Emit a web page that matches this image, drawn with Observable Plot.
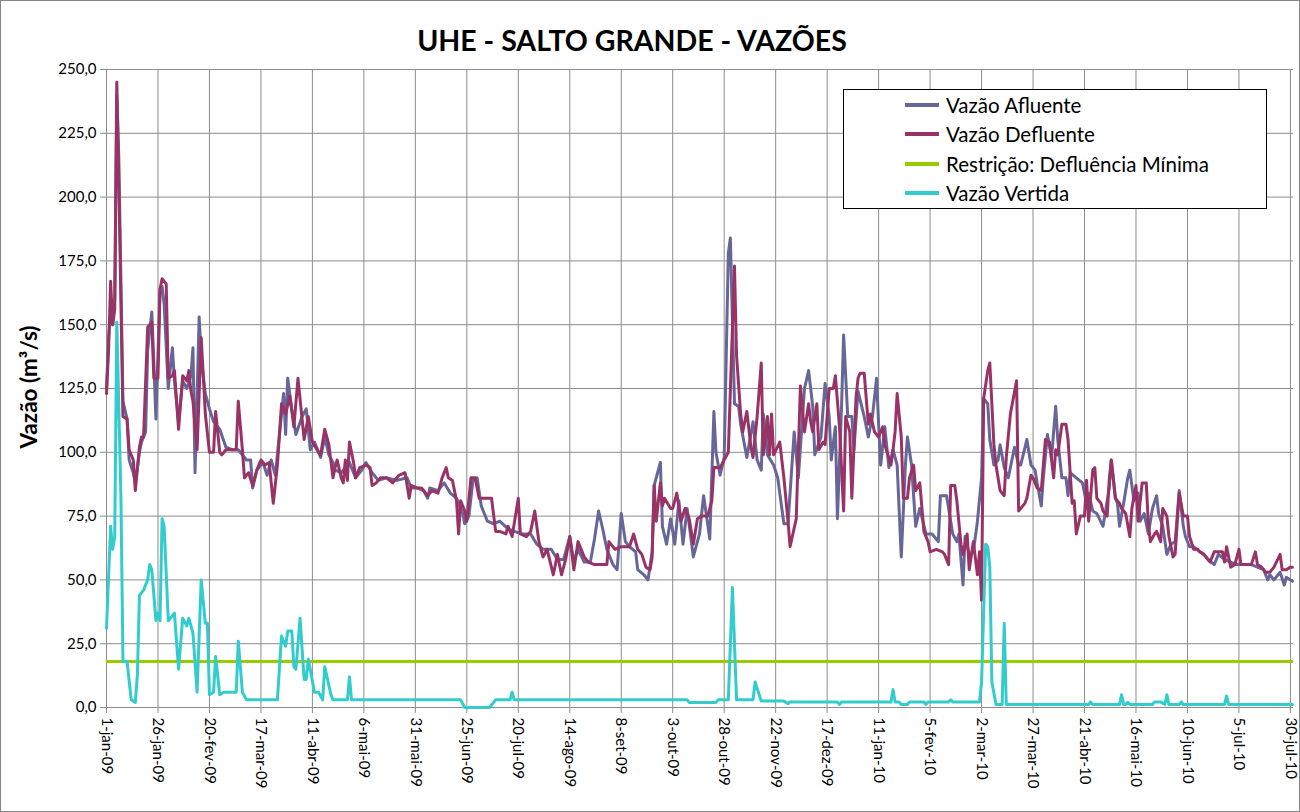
<!DOCTYPE html>
<html><head><meta charset="utf-8">
<script src="https://cdn.jsdelivr.net/npm/d3@7"></script>
<script src="https://cdn.jsdelivr.net/npm/@observablehq/plot@0.6"></script>
<style>
body{margin:0;background:#fff;font-family:Lato,"Open Sans",sans-serif;}
#chart{position:relative;width:1300px;height:812px;overflow:hidden;background:#fff;}
#chart svg{position:absolute;left:0;top:0;}
#frame{position:absolute;left:0;top:0;width:1300px;height:812px;box-sizing:border-box;border:1px solid #868686;pointer-events:none;}
#title{position:absolute;left:632px;top:24px;line-height:32px;transform:translateX(-50%);font-weight:bold;font-size:28.5px;white-space:nowrap;color:#000;}
#ylabel{position:absolute;left:28px;top:387px;transform:translate(-50%,-50%) rotate(-90deg);font-weight:bold;font-size:22.5px;white-space:nowrap;color:#000;}
#legend{position:absolute;left:843px;top:89px;width:424px;height:120px;box-sizing:border-box;border:1.5px solid #000;background:#fff;}
.item{display:flex;align-items:center;height:29.5px;padding-left:61px;font-size:20.5px;color:#000;}
.swatch{width:34px;height:4px;margin-right:7px;}
</style></head>
<body>
<div id="chart">
  <div id="title">UHE - SALTO GRANDE - VAZÕES</div>
  <div id="ylabel">Vazão (m³/s)</div>
  <div id="legend"></div>
  <div id="frame"></div>
</div>
<script>
// x tick positions (days since 1-jan-09) and their labels
const tickDays = [0,25,50,75,100,125,150,175,200,225,250,275,300,325,350,375,400,425,450,475,500,525,550,575];
const tickLabels = ["1-jan-09","26-jan-09","20-fev-09","17-mar-09","11-abr-09","6-mai-09","31-mai-09","25-jun-09","20-jul-09","14-ago-09","8-set-09","3-out-09","28-out-09","22-nov-09","17-dez-09","11-jan-10","5-fev-10","2-mar-10","27-mar-10","21-abr-10","16-mai-10","10-jun-10","5-jul-10","30-jul-10"];
const yTicks = [0,25,50,75,100,125,150,175,200,225,250];

const seriesNames = ["Vazão Afluente","Vazão Defluente","Restrição: Defluência Mínima","Vazão Vertida"];
const seriesColors = ["#666699","#993366","#99CC00","#33CCCC"];

// [day since 1-jan-09, m3/s]
const afluente = [[0,125],[1,145],[2,155],[3,150],[4,160],[5,240],[6,215],[8,120],[10,113],[11,97],[13,92],[14,88],[16,100],[17,104],[19,108],[20,140],[22,155],[23,135],[24,113],[26,164],[27,165],[28,158],[30,125],[32,141],[33,128],[35,112],[37,128],[39,125],[41,130],[42,141],[43,92],[45,153],[46,137],[48,123],[50,117],[52,112],[55,109],[58,102],[61,101],[64,101],[68,97],[70,97],[71,86],[73,93],[76,96],[78,91],[80,97],[82,91],[84,107],[86,123],[87,107],[88,129],[90,117],[92,107],[95,114],[97,117],[99,101],[101,104],[104,98],[106,106],[108,99],[110,96],[111,93],[114,92],[118,96],[121,90],[124,93],[126,96],[129,92],[132,89],[136,90],[141,89],[146,90],[148,86],[151,86],[154,85],[156,82],[157,86],[161,85],[164,88],[167,84],[170,82],[173,76],[174,72],[176,75],[178,89],[180,90],[182,79],[185,73],[188,72],[191,73],[195,70],[198,69],[202,68],[206,68],[209,64],[212,62],[216,62],[219,58],[222,58],[225,67],[227,57],[229,62],[232,57],[235,57],[237,66],[239,77],[241,70],[243,62],[246,56],[248,54],[250,76],[252,65],[254,63],[257,61],[258,54],[261,52],[263,50],[265,61],[266,87],[269,96],[270,71],[272,64],[274,74],[276,64],[278,81],[280,64],[282,78],[285,59],[288,68],[290,83],[293,66],[295,116],[296,100],[298,91],[300,98],[302,178],[303,184],[305,119],[307,118],[308,111],[311,98],[314,112],[316,97],[318,93],[319,115],[321,99],[324,95],[326,90],[329,72],[331,72],[334,108],[336,90],[339,125],[341,132],[343,118],[344,99],[347,106],[349,127],[351,114],[352,97],[354,110],[355,74],[357,118],[358,146],[360,114],[362,114],[363,101],[365,124],[368,114],[370,106],[372,114],[374,129],[375,111],[376,95],[378,110],[380,94],[382,101],[384,95],[386,59],[388,95],[389,106],[391,95],[393,71],[395,78],[398,68],[401,68],[404,65],[405,83],[408,83],[411,68],[413,65],[414,68],[416,48],[417,67],[419,60],[421,61],[423,73],[425,90],[426,121],[428,119],[429,105],[431,95],[433,97],[434,103],[436,94],[438,90],[441,102],[443,95],[444,95],[447,105],[449,95],[451,93],[452,88],[454,79],[455,90],[457,107],[459,98],[461,118],[462,105],[464,90],[466,90],[467,83],[468,92],[471,90],[474,88],[476,80],[477,84],[479,77],[481,76],[484,71],[485,76],[487,86],[488,97],[490,82],[491,80],[492,71],[494,80],[496,90],[497,93],[499,81],[501,84],[502,73],[504,76],[506,68],[508,78],[510,83],[511,76],[513,71],[515,60],[517,64],[519,65],[521,85],[523,71],[524,67],[526,63],[528,63],[531,61],[533,60],[535,58],[538,56],[540,60],[543,58],[546,57],[549,56],[552,56],[556,56],[559,55],[562,54],[564,50],[565,52],[567,50],[570,53],[572,48],[573,51],[575,50],[576,49.5]];

const defluente = [[0,123],[1,140],[2,167],[3,150],[4,156],[5,245],[6,205],[8,114],[10,113],[11,101],[13,97],[14,85],[16,102],[17,106],[18,106],[20,149],[22,151],[23,129],[25,129],[26,164],[27,168],[29,166],[30,129],[32,130],[33,132],[35,109],[37,130],[39,128],[40,132],[41,124],[42,120],[44,101],[46,145],[48,115],[50,100],[52,100],[53,116],[55,100],[56,99],[58,101],[63,101],[64,120],[66,101],[67,90],[69,92],[71,87],[73,93],[75,97],[77,95],[79,96],[81,80],[83,95],[85,119],[87,115],[89,122],[91,110],[93,129],[96,105],[98,114],[100,104],[103,100],[104,99],[106,109],[108,103],[110,90],[111,94],[112,97],[114,90],[115,88],[116,97],[117,89],[118,104],[120,96],[121,90],[123,94],[126,95],[128,94],[129,87],[131,88],[133,90],[136,90],[139,88],[142,91],[145,92],[147,82],[148,87],[151,86],[153,86],[156,83],[158,85],[161,84],[163,90],[165,94],[166,90],[168,89],[170,81],[171,68],[172,81],[174,77],[175,73],[177,90],[179,90],[181,82],[187,82],[189,69],[191,69],[194,68],[195,71],[197,67],[200,82],[201,68],[204,67],[206,69],[208,77],[210,65],[212,59],[214,62],[217,52],[219,60],[221,52],[223,58],[225,67],[227,54],[229,65],[232,59],[234,57],[237,56],[241,56],[243,56],[244,65],[247,62],[250,63],[254,63],[256,68],[258,62],[260,60],[262,55],[264,54],[265,59],[266,87],[267,73],[269,88],[270,79],[271,82],[274,78],[275,78],[277,84],[279,73],[281,78],[283,74],[285,64],[287,74],[289,75],[292,75],[294,81],[295,94],[298,94],[300,97],[302,100],[305,173],[306,138],[308,115],[309,108],[311,116],[313,102],[314,98],[316,114],[318,135],[319,99],[321,114],[322,99],[323,115],[324,99],[327,104],[329,90],[331,73],[332,63],[335,74],[337,126],[339,108],[341,119],[342,112],[343,108],[345,119],[346,101],[348,104],[349,103],[351,125],[353,125],[354,130],[356,110],[358,77],[359,114],[361,108],[362,82],[364,121],[365,129],[366,131],[368,131],[370,111],[371,115],[373,108],[375,106],[377,110],[378,103],[381,95],[382,101],[383,108],[384,123],[386,106],[387,82],[389,82],[390,90],[392,95],[393,85],[395,88],[397,69],[399,65],[400,61],[403,62],[406,61],[407,60],[409,56],[410,87],[412,87],[413,81],[415,64],[416,60],[418,68],[419,54],[421,65],[423,52],[424,61],[425,42],[426,121],[428,132],[429,135],[431,103],[432,95],[434,85],[436,83],[437,98],[439,115],[442,128],[443,77],[446,80],[447,82],[449,91],[450,90],[452,86],[454,85],[456,105],[458,104],[460,90],[461,101],[462,99],[464,111],[466,111],[467,105],[469,80],[470,81],[471,68],[473,75],[475,75],[476,89],[477,73],[479,93],[480,94],[481,82],[483,80],[484,77],[486,75],[487,89],[488,97],[490,82],[492,80],[493,78],[495,76],[497,67],[498,78],[500,87],[501,73],[503,88],[505,88],[506,72],[507,65],[509,68],[510,69],[512,65],[513,78],[515,75],[516,67],[518,59],[519,60],[521,84],[523,75],[525,75],[526,67],[528,62],[530,62],[531,61],[533,60],[535,58],[536,57],[538,61],[540,61],[542,61],[543,57],[544,63],[546,55],[548,56],[550,62],[551,56],[553,56],[556,56],[558,61],[559,56],[561,55],[563,53],[565,53],[567,55],[570,60],[571,54],[573,54],[575,55],[576,55]];

const restricao = 18;

const vertida = [[0,31],[2,71],[3,62],[4,67],[5,151],[7,83],[8,18],[10,18],[12,3],[14,2],[15,13],[16,44],[18,46],[20,50],[21,56],[22,54],[24,34],[25,37],[26,34],[27,74],[28,71],[30,34],[32,36],[33,37],[35,15],[37,35],[39,32],[40,35],[42,29],[44,6],[46,50],[48,33],[49,33],[50,5],[52,6],[53,20],[55,5],[57,6],[63,6],[64,26],[66,6],[68,3],[83,3],[85,28],[87,24],[88,30],[90,30],[91,16],[92,15],[94,35],[96,11],[97,11],[98,19],[101,6],[103,6],[105,3],[106,16],[109,5],[110,3],[117,3],[118,12],[119,3],[172,3],[174,0],[186,0],[189,3],[196,3],[197,6],[198,3],[282,3],[283,2],[296,2],[297,3],[302,3],[304,47],[306,3],[314,3],[315,10],[317,5],[318,2.5],[329,2.5],[331,1.5],[332,2.2],[355,2.2],[356,1.2],[357,2.2],[381,2.2],[382,7],[383,2.2],[385,2.2],[386,1.2],[389,1.2],[390,2.2],[397,2.2],[398,1.2],[399,2.2],[409,2.2],[410,3],[411,2.2],[424,2.2],[425,10],[427,64],[428,63],[429,55],[430,10],[432,1.2],[435,1.2],[436,33],[437,1.2],[477,1.2],[478,2.2],[479,1.2],[492,1.2],[493,5],[494,1.2],[495,1.2],[496,2],[497,1.2],[508,1.2],[509,2.2],[512,2.2],[514,1.2],[515,5],[516,1.2],[521,1.2],[522,2.2],[523,1.2],[543,1.2],[544,4.5],[545,1.2],[576,1.2]];

const fmt = v => v.toFixed(1).replace(".", ",");
const labelOf = new Map(tickDays.map((d, i) => [d, tickLabels[i]]));

const chart = Plot.plot({
  width: 1300,
  height: 812,
  marginLeft: 106,
  marginRight: 7,
  marginTop: 69,
  marginBottom: 105,
  style: {fontFamily: "Lato, 'Open Sans', sans-serif", background: "transparent", color: "#000"},
  x: {domain: [0, 576.5]},
  y: {domain: [0, 250]},
  marks: [
    Plot.gridX(tickDays, {stroke: "#8c8c8c", strokeOpacity: 1, strokeWidth: 1}),
    Plot.gridY(yTicks, {stroke: "#8c8c8c", strokeOpacity: 1, strokeWidth: 1}),
    Plot.axisY(yTicks, {tickFormat: fmt, tickSize: 6, tickPadding: 4, fontSize: 15, stroke: "#8c8c8c", label: null}),
    Plot.axisX(tickDays, {tickFormat: d => labelOf.get(d), tickRotate: 90, tickSize: 6, tickPadding: 4, fontSize: 15, stroke: "#8c8c8c", label: null}),
    Plot.ruleX([0], {stroke: "#8c8c8c"}),
    Plot.ruleY([0], {stroke: "#8c8c8c"}),
    Plot.line(afluente, {x: d => d[0], y: d => d[1], stroke: seriesColors[0], strokeWidth: 3}),
    Plot.line(defluente, {x: d => d[0], y: d => d[1], stroke: seriesColors[1], strokeWidth: 3}),
    Plot.ruleY([restricao], {stroke: seriesColors[2], strokeWidth: 3}),
    Plot.line(vertida, {x: d => d[0], y: d => d[1], stroke: seriesColors[3], strokeWidth: 3})
  ]
});
document.getElementById("chart").insertBefore(chart, document.getElementById("title"));

const legend = document.getElementById("legend");
seriesNames.forEach((name, i) => {
  const row = document.createElement("div");
  row.className = "item";
  const sw = document.createElement("span");
  sw.className = "swatch";
  sw.style.background = seriesColors[i];
  const t = document.createElement("span");
  t.textContent = name;
  row.appendChild(sw); row.appendChild(t);
  legend.appendChild(row);
});
</script>
</body></html>
